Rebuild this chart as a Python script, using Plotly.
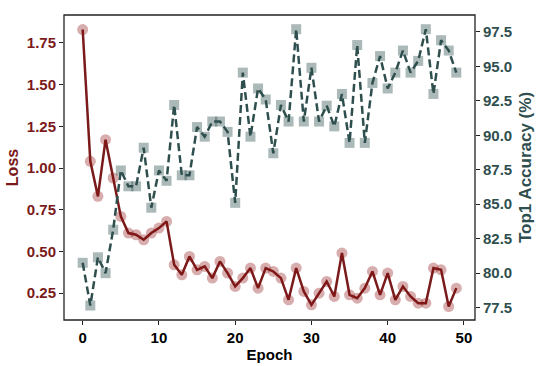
import plotly.graph_objects as go

# epoch index
epochs = list(range(50))

# training loss per epoch (left axis)
loss = [1.83, 1.04, 0.83, 1.17, 0.94, 0.71, 0.61, 0.60, 0.57, 0.61,
        0.64, 0.68, 0.42, 0.36, 0.47, 0.39, 0.41, 0.34, 0.44, 0.37,
        0.29, 0.34, 0.40, 0.28, 0.40, 0.38, 0.34, 0.21, 0.40, 0.26,
        0.18, 0.25, 0.32, 0.23, 0.49, 0.24, 0.22, 0.28, 0.38, 0.24,
        0.37, 0.21, 0.29, 0.23, 0.19, 0.19, 0.40, 0.39, 0.17, 0.28]

# top1 accuracy per epoch (right axis)
acc = [80.75, 77.65, 81.15, 80.0, 83.15, 87.45, 86.3, 86.3, 89.1, 84.75,
       87.45, 86.7, 92.2, 87.1, 87.1, 90.6, 89.9, 91.0, 91.0, 90.25,
       85.1, 94.55, 89.9, 93.4, 92.6, 88.7, 92.2, 91.0, 97.7, 91.0,
       94.9, 91.0, 92.15, 90.65, 93.0, 89.45, 96.55, 89.45, 93.8, 95.75,
       93.4, 94.55, 96.15, 94.55, 95.4, 97.7, 93.0, 96.9, 96.15, 94.55]

loss_col = "#7a1a1a"
acc_col = "#2f4f4f"
font = "Liberation Sans, Arial, sans-serif"

fig = go.Figure()

fig.add_trace(go.Scatter(
    x=epochs, y=loss, mode="lines+markers", name="Loss",
    line=dict(color=loss_col, width=2.5),
    marker=dict(symbol="circle", size=11, color="rgba(140,20,20,0.35)",
                line=dict(width=0)),
))

fig.add_trace(go.Scatter(
    x=epochs, y=acc, mode="lines+markers", name="Top1 Accuracy", yaxis="y2",
    line=dict(color=acc_col, width=2.5, dash="8px,4px"),
    marker=dict(symbol="square", size=10, color="rgba(47,79,79,0.4)",
                line=dict(width=0)),
))

axis_common = dict(showgrid=False, zeroline=False, showline=False, automargin=False,
                   ticks="outside", ticklen=4, tickcolor="#222", tickwidth=1.2)

fig.update_layout(
    width=538, height=366,
    margin=dict(l=64, r=63, t=15, b=46),
    paper_bgcolor="white", plot_bgcolor="white",
    showlegend=False,
    font=dict(family=font, size=15),
    xaxis=dict(
        range=[-2.45, 51.45], tickvals=[0, 10, 20, 30, 40, 50],
        **axis_common,
        tickfont=dict(family=font, size=15, color="black", weight="bold"),
        title=dict(text="Epoch", standoff=4,
                   font=dict(family=font, size=15, color="black", weight="bold")),
    ),
    yaxis=dict(
        range=[0.089, 1.917], tickvals=[0.25, 0.5, 0.75, 1.0, 1.25, 1.5, 1.75],
        tickformat=".2f", **axis_common,
        tickfont=dict(family=font, size=15, color=loss_col, weight="bold"),
        title=dict(text="Loss", standoff=4,
                   font=dict(family=font, size=16, color=loss_col, weight="bold")),
    ),
    yaxis2=dict(
        overlaying="y", side="right",
        range=[76.6, 98.73], tickvals=[77.5, 80, 82.5, 85, 87.5, 90, 92.5, 95, 97.5],
        tickformat=".1f", **axis_common,
        tickfont=dict(family=font, size=15, color=acc_col, weight="bold"),
        title=dict(text="Top1 Accuracy (%)", standoff=7,
                   font=dict(family=font, size=17, color=acc_col, weight="bold")),
    ),
)

# plot frame
fig.add_shape(type="rect", xref="paper", yref="paper", x0=0, y0=0, x1=1, y1=1,
              line=dict(color="#222", width=1.3), layer="above")

# drop the browser's default body margin so the figure sits at the page corner
fig.write_html("out.html", config={"displayModeBar": False},
               post_script="document.body.style.margin='0';")
